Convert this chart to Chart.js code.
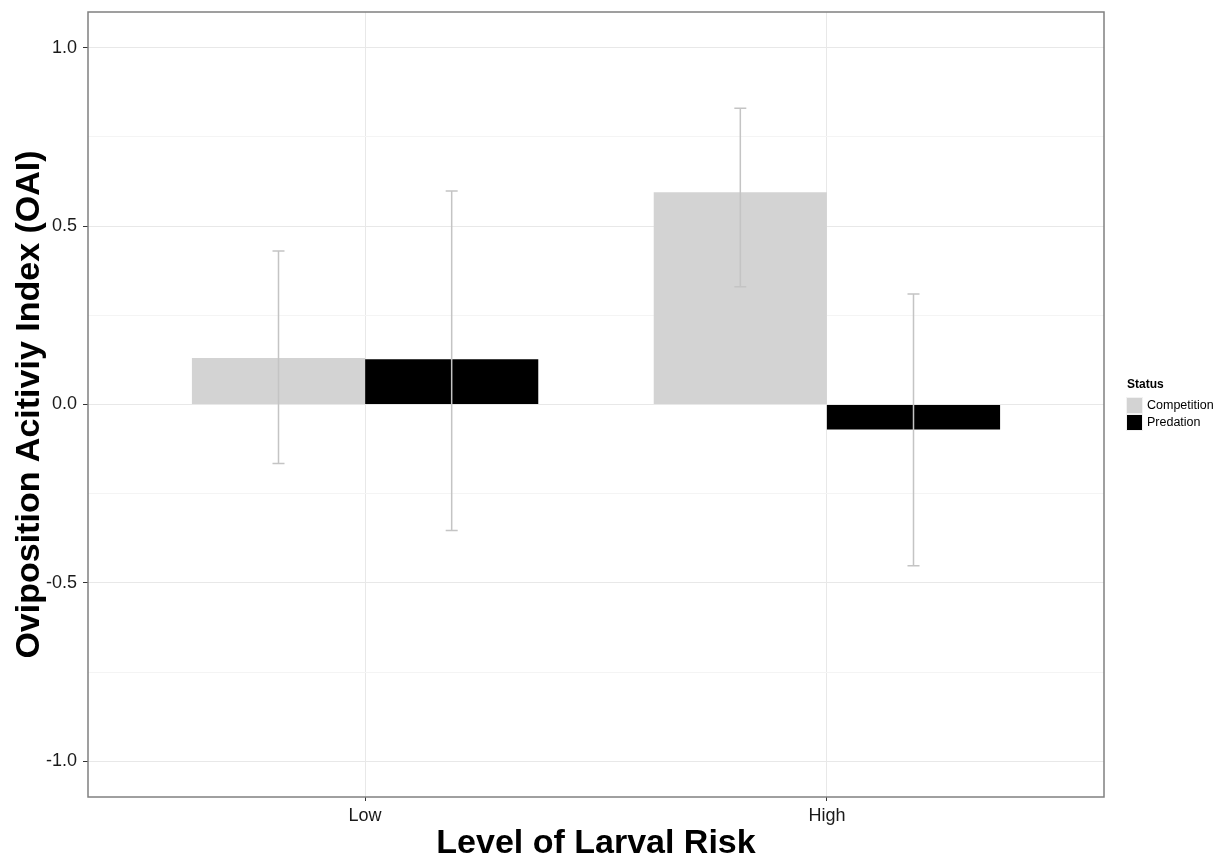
<!DOCTYPE html>
<html>
<head>
<meta charset="utf-8">
<script src="https://cdn.jsdelivr.net/npm/chart.js@4/dist/chart.umd.min.js"></script>
<style>
html,body{margin:0;padding:0;background:#fff;}
#wrap{width:1221px;height:861px;position:relative;}
</style>
</head>
<body>
<div id="wrap"><canvas id="c"></canvas></div>
<script>
const categories = ['Low', 'High'];
const seriesNames = ['Competition', 'Predation'];
const competitionMean = [0.13, 0.595];
const competitionLow  = [-0.165, 0.33];
const competitionHigh = [0.43, 0.83];
const predationMean = [0.127, -0.07];
const predationLow  = [-0.353, -0.452];
const predationHigh = [0.598, 0.31];
const yMajorTicks = [-1.0, -0.5, 0.0, 0.5, 1.0];
const yMinorTicks = [-0.75, -0.25, 0.25, 0.75];
const legendTitle = 'Status';
const seriesColors = ['#d3d3d3', '#000000'];

const xPos = categories.map((c, i) => i + 1);
function toPoints(vals){ return vals.map((v, i) => ({x: xPos[i], y: v})); }

const errBars = [
  {lo: competitionLow, hi: competitionHigh},
  {lo: predationLow, hi: predationHigh}
];

const errorBarPlugin = {
  id: 'errorBars',
  afterDatasetsDraw(chart){
    const ctx = chart.ctx;
    const ys = chart.scales.y;
    ctx.save();
    ctx.strokeStyle = '#c4c4c4';
    ctx.lineWidth = 1.5;
    chart.data.datasets.forEach((ds, di) => {
      const meta = chart.getDatasetMeta(di);
      meta.data.forEach((bar, i) => {
        const x = bar.x;
        const yLo = ys.getPixelForValue(errBars[di].lo[i]);
        const yHi = ys.getPixelForValue(errBars[di].hi[i]);
        const hw = 6;
        ctx.beginPath();
        ctx.moveTo(x, yLo); ctx.lineTo(x, yHi);
        ctx.moveTo(x - hw, yLo); ctx.lineTo(x + hw, yLo);
        ctx.moveTo(x - hw, yHi); ctx.lineTo(x + hw, yHi);
        ctx.stroke();
      });
    });
    ctx.restore();
  }
};

const panelPlugin = {
  id: 'panel',
  afterDraw(chart){
    const ctx = chart.ctx;
    const a = chart.chartArea;
    ctx.save();
    ctx.strokeStyle = '#808080';
    ctx.lineWidth = 1.5;
    ctx.strokeRect(a.left, a.top, a.right - a.left, a.bottom - a.top);
    // legend
    const lx = 1126, ly = 385;
    ctx.fillStyle = '#000';
    ctx.font = 'bold 12px Arial, "Liberation Sans", sans-serif';
    ctx.textAlign = 'left';
    ctx.textBaseline = 'middle';
    ctx.fillText(legendTitle, lx + 1, ly);
    const box = 17;
    seriesNames.forEach((name, i) => {
      const by = 397 + i * box;
      ctx.fillStyle = '#f2f2f2';
      ctx.fillRect(lx, by, box, box);
      ctx.fillStyle = seriesColors[i];
      ctx.fillRect(lx + 1, by + 1, box - 2, box - 2);
      ctx.fillStyle = '#000';
      ctx.font = '12.5px Arial, "Liberation Sans", sans-serif';
      ctx.fillText(name, lx + box + 4, by + box / 2 + 0.5);
    });
    ctx.restore();
  }
};

new Chart(document.getElementById('c'), {
  type: 'bar',
  data: {
    datasets: [
      {label: seriesNames[0], data: toPoints(competitionMean), backgroundColor: seriesColors[0], borderWidth: 0},
      {label: seriesNames[1], data: toPoints(predationMean), backgroundColor: seriesColors[1], borderWidth: 0}
    ]
  },
  options: {
    responsive: true,
    maintainAspectRatio: false,
    animation: false,
    layout: {padding: {top: 12, right: 117, left: 0, bottom: 0}},
    datasets: {bar: {categoryPercentage: 0.75, barPercentage: 1.0}},
    plugins: {legend: {display: false}, tooltip: {enabled: false}},
    scales: {
      x: {
        type: 'linear',
        min: 0.4, max: 2.6,
        offset: false,
        afterBuildTicks(scale){ scale.ticks = xPos.map(v => ({value: v})); },
        afterFit(scale){ scale.height = 64; scale.paddingLeft = 0; scale.paddingRight = 0; },
        border: {display: false},
        grid: {offset: false, color: '#e8e8e8', lineWidth: 1, tickColor: '#333', tickLength: 4, drawTicks: true},
        ticks: {
          padding: 4,
          color: '#1a1a1a',
          font: {family: 'Arial, "Liberation Sans", sans-serif', size: 18},
          callback: (v) => categories[Math.round(v) - 1] || ''
        },
        title: {
          display: true,
          text: 'Level of Larval Risk',
          color: '#000',
          font: {family: 'Arial, "Liberation Sans", sans-serif', size: 34, weight: 'bold', lineHeight: 1.0},
          padding: {top: 0, bottom: 0}
        }
      },
      y: {
        type: 'linear',
        min: -1.1, max: 1.1,
        afterBuildTicks(scale){
          scale.ticks = yMajorTicks.concat(yMinorTicks).sort((a,b)=>a-b).map(v => ({value: v}));
        },
        afterFit(scale){ scale.width = 88; scale.paddingTop = 0; scale.paddingBottom = 0; },
        border: {display: false},
        grid: {
          color: (c) => yMinorTicks.includes(c.tick && c.tick.value) ? '#f4f4f4' : '#e8e8e8',
          tickColor: (c) => yMinorTicks.includes(c.tick && c.tick.value) ? 'rgba(0,0,0,0)' : '#333',
          lineWidth: 1,
          tickLength: 5,
          drawTicks: true
        },
        ticks: {
          padding: 6,
          color: '#1a1a1a',
          font: {family: 'Arial, "Liberation Sans", sans-serif', size: 18},
          callback: (v) => yMajorTicks.includes(v) ? v.toFixed(1) : ''
        },
        title: {
          display: true,
          text: 'Oviposition Acitiviy Index (OAI)',
          color: '#000',
          font: {family: 'Arial, "Liberation Sans", sans-serif', size: 34, weight: 'bold', lineHeight: 1.0},
          padding: {top: 13, bottom: 0}
        }
      }
    }
  },
  plugins: [errorBarPlugin, panelPlugin]
});
</script>
</body>
</html>
